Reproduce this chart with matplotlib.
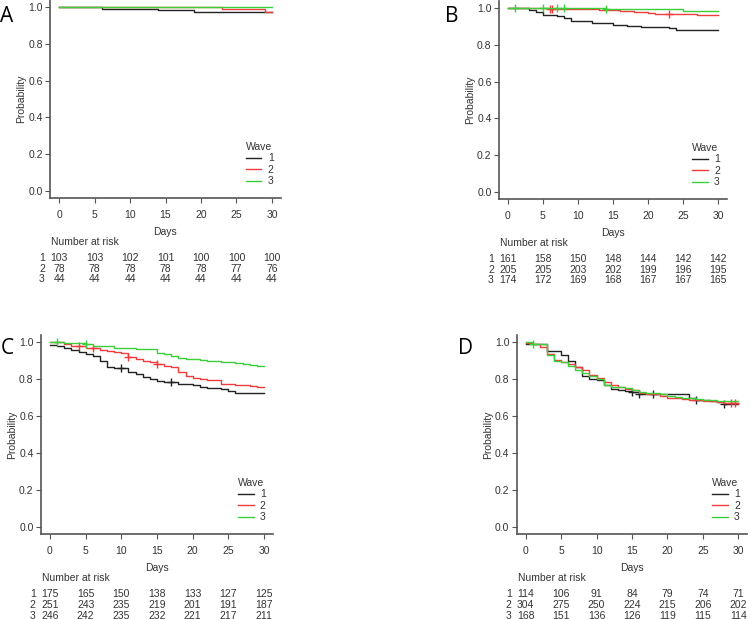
import matplotlib
matplotlib.use("Agg")
import matplotlib.pyplot as plt
import numpy as np

plt.rcParams["font.family"] = ["Liberation Sans", "DejaVu Sans"]

TXT = "#333333"
AXC = "#555555"
colors = ["#222222", "#f03c3c", "#3ccf3c"]
waves = ["1", "2", "3"]
risk_days = [0, 5, 10, 15, 20, 25, 30]

# panel A
a1_days = [0, 6, 14, 19, 30]
a1_surv = [1.0, 0.990, 0.981, 0.971, 0.971]
a2_days = [0, 23, 29, 30]
a2_surv = [1.0, 0.987, 0.974, 0.974]
a3_days = [0, 30]
a3_surv = [1.0, 1.0]
a_cens = [[], [], []]
a_risk = [[103, 103, 102, 101, 100, 100, 100],
          [78, 78, 78, 78, 78, 77, 76],
          [44, 44, 44, 44, 44, 44, 44]]

# panel B
b1_days = [0, 3, 4, 5, 7, 8, 9, 11, 12, 13, 15, 17, 19, 23, 24, 30]
b1_surv = [1.0, 0.991, 0.980, 0.964, 0.957, 0.944, 0.931, 0.928, 0.920,
           0.917, 0.909, 0.902, 0.895, 0.889, 0.880, 0.880]
b2_days = [0, 6, 13, 16, 18, 20, 21, 27, 30]
b2_surv = [1.0, 0.995, 0.990, 0.985, 0.980, 0.975, 0.965, 0.960, 0.960]
b3_days = [0, 14, 19, 25, 30]
b3_surv = [1.0, 0.995, 0.992, 0.982, 0.982]
b_cens = [[], [6, 6.3, 23], [1, 5, 7, 8, 14]]
b_risk = [[161, 158, 150, 148, 144, 142, 142],
          [205, 205, 203, 202, 199, 196, 195],
          [174, 172, 169, 168, 167, 167, 165]]

# panel C
c1_days = [0, 1, 2, 3, 4, 5, 6, 7, 8, 9, 11, 12, 13, 14, 15, 16, 18, 20,
           21, 22, 24, 25, 26, 30]
c1_surv = [0.984, 0.978, 0.966, 0.957, 0.945, 0.935, 0.925, 0.895, 0.865,
           0.858, 0.840, 0.825, 0.810, 0.800, 0.790, 0.785, 0.775, 0.768,
           0.758, 0.752, 0.745, 0.735, 0.725, 0.725]
c2_days = [0, 2, 3, 5, 7, 8, 9, 10, 11, 12, 13, 14, 15, 16, 17, 18, 19, 20,
           21, 22, 24, 26, 27, 28, 29, 30]
c2_surv = [1.0, 0.990, 0.978, 0.965, 0.955, 0.950, 0.945, 0.940, 0.920,
           0.910, 0.900, 0.890, 0.880, 0.870, 0.865, 0.840, 0.815, 0.808,
           0.800, 0.795, 0.775, 0.770, 0.765, 0.760, 0.755, 0.755]
c3_days = [0, 2, 5, 6, 9, 11, 12, 15, 16, 17, 18, 19, 21, 22, 23, 24, 26,
           27, 28, 29, 30]
c3_surv = [1.0, 0.995, 0.990, 0.980, 0.970, 0.965, 0.960, 0.940, 0.935,
           0.925, 0.915, 0.910, 0.905, 0.900, 0.895, 0.890, 0.885, 0.880,
           0.875, 0.870, 0.870]
c_cens = [[10, 17], [4, 6, 11, 15], [1, 5]]
c_risk = [[175, 165, 150, 138, 133, 127, 125],
          [251, 243, 235, 219, 201, 191, 187],
          [246, 242, 235, 232, 221, 217, 211]]

# panel D
d1_days = [0, 3, 5, 6, 7, 8, 9, 10, 11, 12, 13, 14, 15, 16, 23, 24, 26,
           27, 28, 30]
d1_surv = [0.991, 0.950, 0.928, 0.895, 0.865, 0.815, 0.800, 0.795, 0.770,
           0.745, 0.740, 0.735, 0.730, 0.720, 0.695, 0.685, 0.680, 0.675,
           0.665, 0.665]
d2_days = [0, 1, 2, 3, 4, 5, 6, 7, 8, 9, 10, 11, 12, 13, 14, 15, 16, 17,
           19, 20, 21, 22, 23, 25, 27, 28, 30]
d2_surv = [0.995, 0.988, 0.975, 0.935, 0.905, 0.890, 0.880, 0.865, 0.850,
           0.820, 0.805, 0.785, 0.770, 0.755, 0.745, 0.740, 0.725, 0.720,
           0.710, 0.700, 0.695, 0.690, 0.685, 0.680, 0.675, 0.670, 0.665]
d3_days = [0, 1, 3, 4, 5, 6, 7, 8, 9, 10, 11, 12, 14, 15, 16, 17, 19, 20,
           21, 22, 23, 24, 25, 27, 30]
d3_surv = [1.0, 0.990, 0.930, 0.900, 0.890, 0.870, 0.850, 0.830, 0.815,
           0.800, 0.765, 0.755, 0.750, 0.740, 0.730, 0.725, 0.720, 0.710,
           0.705, 0.700, 0.695, 0.690, 0.685, 0.680, 0.680]
d_cens = [[15, 16, 18, 24, 28], [29, 29.6], [1]]
d_risk = [[114, 106, 91, 84, 79, 74, 71],
          [304, 275, 250, 224, 215, 206, 202],
          [168, 151, 136, 126, 119, 115, 114]]

W, H = 750, 619
fig = plt.figure(figsize=(W / 100, H / 100), dpi=100)


def px_axes(left, top, right, bottom):
    return fig.add_axes([left / W, 1 - bottom / H, (right - left) / W, (bottom - top) / H])


def panel(rect, letter, letter_xy, curves, cens, risk):
    ax = px_axes(*rect)
    for (days, surv), c, cx, lab in zip(curves, colors, cens, waves):
        ax.step(days, surv, where="post", color=c, lw=1.0, label=lab)
        if cx:
            idx = np.searchsorted(days, cx, side="right") - 1
            ax.plot(cx, np.array(surv)[idx], ls="none", marker="+", ms=6,
                    mew=1.0, color=c)
    ax.set_xlim(-1.2, 31.2)
    ax.set_ylim(-0.04, 1.04)
    ax.set_xticks(risk_days)
    ax.set_yticks(np.arange(0, 1.01, 0.2))
    ax.yaxis.set_major_formatter(matplotlib.ticker.FormatStrFormatter("%.1f"))
    for s in ["top", "right"]:
        ax.spines[s].set_visible(False)
    for s in ["left", "bottom"]:
        ax.spines[s].set_color(AXC)
        ax.spines[s].set_linewidth(1.2)
    ax.tick_params(axis="x", length=3.6, width=0.8, color=AXC, pad=5,
                   labelsize=7.5, labelcolor=TXT)
    ax.tick_params(axis="y", length=3.6, width=0.8, color=AXC, pad=2,
                   labelsize=7.5, labelcolor=TXT)
    ax.set_xlabel("Days", fontsize=7.5, color=TXT)
    ax.xaxis.set_label_coords(0.5, -0.145)
    ax.set_ylabel("Probability", fontsize=7.5, color=TXT)
    ax.yaxis.set_label_coords(-0.107, 0.5)
    leg = ax.legend(title="Wave", loc="lower right", bbox_to_anchor=(0.97, 0.06),
                    frameon=False, fontsize=7.5, title_fontsize=7.5,
                    handlelength=1.5, handletextpad=0.6, labelspacing=0.15,
                    borderpad=0, borderaxespad=0)
    leg._legend_box.align = "left"
    for t in leg.get_texts():
        t.set_color(TXT)
    leg.get_title().set_color(TXT)

    tr = matplotlib.transforms.blended_transform_factory(ax.transData, ax.transAxes)
    ax.text(-1.15, -0.22, "Number at risk", transform=tr, fontsize=7.5,
            color=TXT, ha="left", va="center")
    for row, (lab, vals) in enumerate(zip(waves, risk)):
        yy = -0.30 - 0.053 * row
        ax.text(-2.4, yy, lab, transform=tr, fontsize=7.5, color=TXT,
                ha="center", va="center")
        for d, v in zip(risk_days, vals):
            ax.text(d, yy, str(v), transform=tr, fontsize=7.5, color=TXT,
                    ha="center", va="center")
    fig.text(letter_xy[0] / W, 1 - letter_xy[1] / H, letter, fontsize=15,
             family=["Open Sans", "DejaVu Sans"], ha="center", va="center")
    return ax


panel((50.5, -0.36, 280.5, 198.4), "A", (7, 16),
      [(a1_days, a1_surv), (a2_days, a2_surv), (a3_days, a3_surv)], a_cens, a_risk)
panel((499.3, 0.64, 726.7, 199.4), "B", (452, 17),
      [(b1_days, b1_surv), (b2_days, b2_surv), (b3_days, b3_surv)], b_cens, b_risk)
panel((41.4, 334.6, 272.6, 534.4), "C", (7, 348),
      [(c1_days, c1_surv), (c2_days, c2_surv), (c3_days, c3_surv)], c_cens, c_risk)
panel((517.2, 334.6, 746.8, 534.4), "D", (466, 348),
      [(d1_days, d1_surv), (d2_days, d2_surv), (d3_days, d3_surv)], d_cens, d_risk)

fig.savefig("out.png", dpi=100)
